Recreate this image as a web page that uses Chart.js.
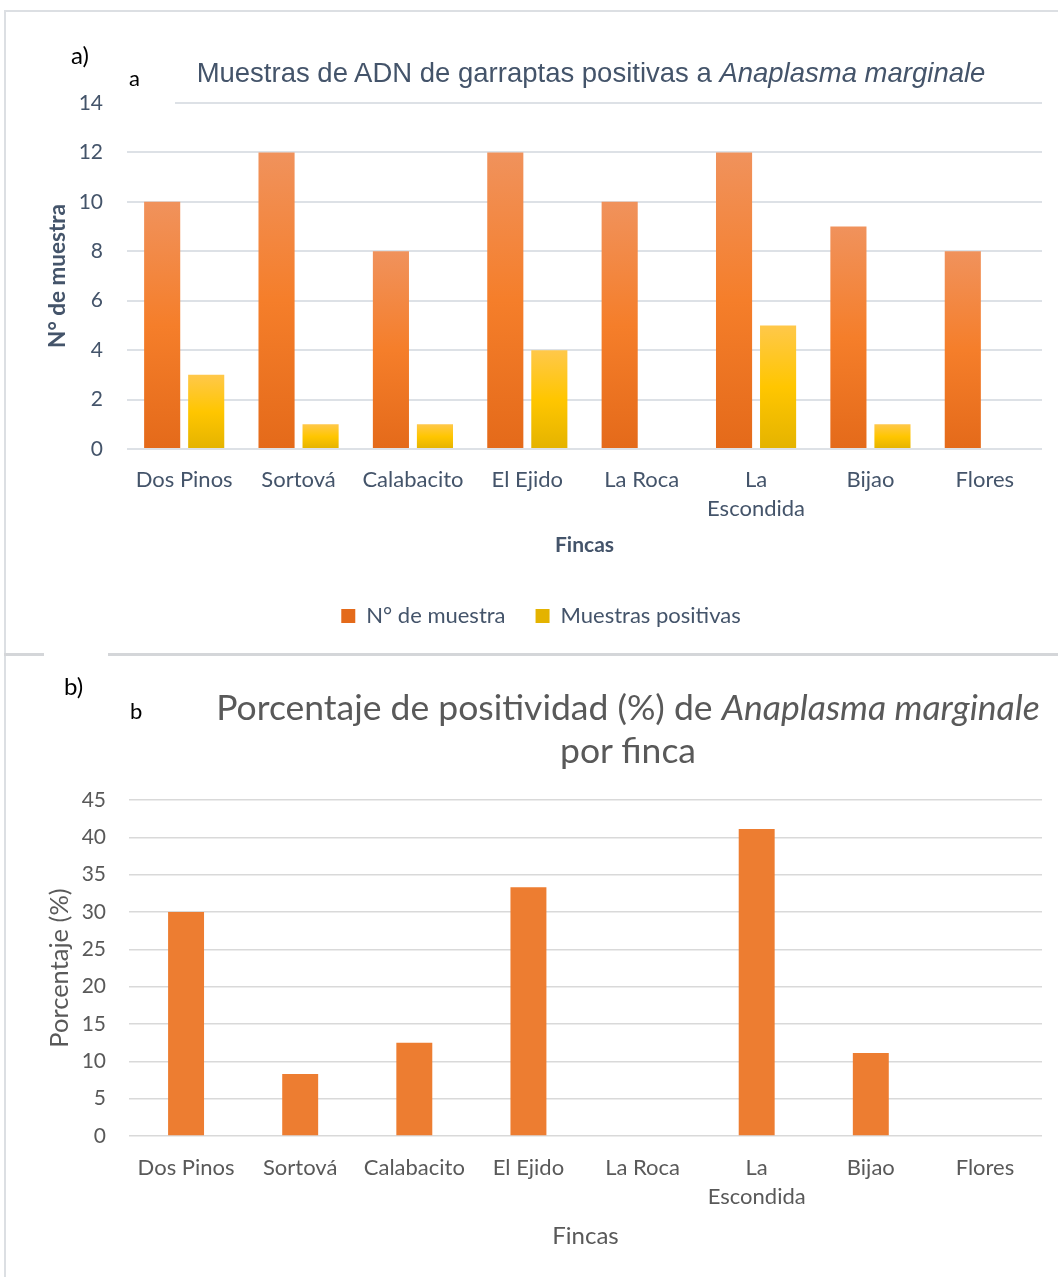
<!DOCTYPE html>
<html>
<head>
<meta charset="utf-8">
<script src="https://cdn.jsdelivr.net/npm/chart.js@4.4.0/dist/chart.umd.min.js"></script>
<style>
  body { margin: 0; background: #fff; }
  #wrap { position: relative; width: 1058px; height: 1277px; overflow: hidden; background: #fff; }
  canvas { position: absolute; left: 0; }
  .line { position: absolute; background: #dcdfe3; }
  .lbl { position: absolute; font-family: Lato, sans-serif; color: #000; white-space: nowrap; }
  .title { position: absolute; text-align: center; white-space: nowrap; }
</style>
</head>
<body>
<div id="wrap">
  <canvas id="chartA" width="1058" height="655" style="top:0"></canvas>
  <canvas id="chartB" width="1058" height="622" style="top:655px"></canvas>

  <!-- marcos -->
  <div class="line" style="left:4px;top:10px;width:1054px;height:2px"></div>
  <div class="line" style="left:4px;top:10px;width:2px;height:1267px"></div>
  <div class="line" style="left:4px;top:653px;width:1054px;height:3px;background:#d4d6d9"></div>
  <div style="position:absolute;left:44px;top:652px;width:64px;height:5px;background:#fff"></div>
  <div style="position:absolute;left:127px;top:98px;width:48px;height:10px;background:#fff"></div>

  <!-- etiquetas -->
  <div class="lbl" style="left:71px;top:40px;font-size:24px">a)</div>
  <div class="lbl" style="left:129px;top:64px;font-size:22px">a</div>
  <div class="lbl" style="left:64px;top:671px;font-size:24px">b)</div>
  <div class="lbl" style="left:130px;top:697px;font-size:22px">b</div>

  <div class="title" style="left:141px;top:57px;width:900px;font:27.5px 'Liberation Sans', Arial, sans-serif;line-height:32px;color:#44546a">
    Muestras de ADN de garraptas positivas a <i>Anaplasma marginale</i>
  </div>
  <div class="title" style="left:178px;top:685px;width:900px;font:35.5px Lato, sans-serif;line-height:43px;color:#595959">
    Porcentaje de positividad (%) de <i>Anaplasma marginale</i><br>por finca
  </div>
</div>

<script>
// datos
const fincas = ['Dos Pinos', 'Sortová', 'Calabacito', 'El Ejido', 'La Roca', ['La', 'Escondida'], 'Bijao', 'Flores'];
const nMuestra = [10, 12, 8, 12, 10, 12, 9, 8];
const positivas = [3, 1, 1, 4, 0, 5, 1, 0];
const porcentaje = [30, 8.3, 12.5, 33.3, 0, 41.1, 11.1, 0];

const ticksA = { min: 0, max: 14, step: 2 };
const ticksB = { min: 0, max: 45, step: 5 };

const azulGris = '#44546a';
const gris = '#595959';

// degradado vertical por barra (como en Excel)
function degradado(colores) {
  return (ctx) => {
    const chart = ctx.chart;
    if (ctx.type !== 'data' || !chart.chartArea) return colores[1];
    const y = chart.scales.y;
    const top = y.getPixelForValue(ctx.raw);
    const bottom = y.getPixelForValue(0);
    if (bottom - top < 1) return colores[1];
    const g = chart.ctx.createLinearGradient(0, top, 0, bottom);
    g.addColorStop(0, colores[0]);
    g.addColorStop(0.5, colores[1]);
    g.addColorStop(1, colores[2]);
    return g;
  };
}

const naranja = ['#f0925c', '#f57e2a', '#e46a1a'];
const amarillo = ['#ffc84a', '#ffc600', '#e4b300'];

new Chart(document.getElementById('chartA'), {
  type: 'bar',
  data: {
    labels: fincas,
    datasets: [
      {
        label: 'N° de muestra',
        data: nMuestra,
        backgroundColor: degradado(naranja),
        borderWidth: 0,
        categoryPercentage: 0.77,
        barPercentage: 0.82
      },
      {
        label: 'Muestras positivas',
        data: positivas,
        backgroundColor: degradado(amarillo),
        borderWidth: 0,
        categoryPercentage: 0.77,
        barPercentage: 0.82
      }
    ]
  },
  options: {
    responsive: false,
    animation: false,
    layout: { padding: { top: 103, right: 16, bottom: 18, left: 40 } },
    plugins: {
      tooltip: { enabled: false },
      legend: {
        position: 'bottom',
        labels: {
          color: azulGris,
          font: { family: 'Lato', size: 22 },
          boxWidth: 14,
          boxHeight: 14,
          padding: 30
        }
      }
    },
    scales: {
      x: {
        grid: { display: false },
        border: { display: false },
        ticks: {
          color: azulGris,
          font: { family: 'Lato', size: 22, lineHeight: 1.32 },
          padding: 8,
          maxRotation: 0,
          autoSkip: false
        },
        title: {
          display: true,
          text: 'Fincas',
          color: azulGris,
          font: { family: 'Lato', size: 21, weight: 'bold' },
          padding: { top: 0, bottom: 17 }
        },
        afterFit: (scale) => { scale.height = 126; }
      },
      y: {
        min: ticksA.min,
        max: ticksA.max,
        grid: { color: '#dde1e6', lineWidth: 2, drawTicks: false },
        border: { display: false },
        ticks: {
          stepSize: ticksA.step,
          color: azulGris,
          font: { family: 'Lato', size: 21 },
          padding: 24
        },
        title: {
          display: true,
          text: 'N° de muestra',
          color: azulGris,
          font: { family: 'Lato', size: 22.5, weight: 'bold' },
          padding: { top: 4, bottom: 0 }
        },
        afterFit: (scale) => { scale.width = 87; }
      }
    }
  }
});

new Chart(document.getElementById('chartB'), {
  type: 'bar',
  data: {
    labels: fincas,
    datasets: [
      {
        label: 'Porcentaje',
        data: porcentaje,
        backgroundColor: '#ed7d31',
        borderWidth: 0,
        categoryPercentage: 0.63,
        barPercentage: 0.5
      }
    ]
  },
  options: {
    responsive: false,
    animation: false,
    layout: { padding: { top: 145, right: 16, bottom: 10, left: 0 } },
    plugins: {
      tooltip: { enabled: false },
      legend: { display: false }
    },
    scales: {
      x: {
        grid: { display: false },
        border: { display: false },
        ticks: {
          color: gris,
          font: { family: 'Lato', size: 22, lineHeight: 1.32 },
          padding: 9,
          maxRotation: 0,
          autoSkip: false
        },
        title: {
          display: true,
          text: 'Fincas',
          color: gris,
          font: { family: 'Lato', size: 24 },
          padding: { top: 0, bottom: 16 }
        },
        afterFit: (scale) => { scale.height = 131; }
      },
      y: {
        min: ticksB.min,
        max: ticksB.max,
        grid: { color: '#d9d9d9', lineWidth: 1.5, drawTicks: false },
        border: { display: false },
        ticks: {
          stepSize: ticksB.step,
          color: gris,
          font: { family: 'Lato', size: 21 },
          padding: 23
        },
        title: {
          display: true,
          text: 'Porcentaje (%)',
          color: gris,
          font: { family: 'Lato', size: 25.5 },
          padding: { top: 44.5, bottom: 0 }
        },
        afterFit: (scale) => { scale.width = 129; }
      }
    }
  }
});
</script>
</body>
</html>
